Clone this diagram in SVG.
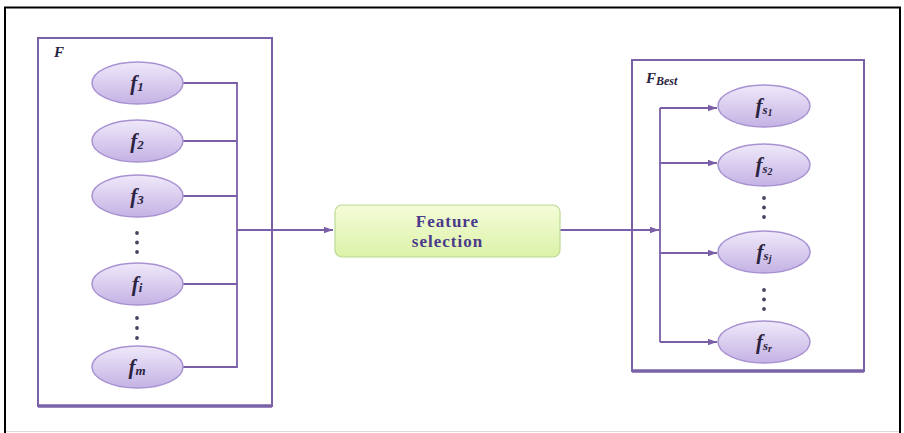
<svg xmlns="http://www.w3.org/2000/svg" width="904" height="433" viewBox="0 0 904 433">
<defs>
<linearGradient id="eg" x1="0" y1="0" x2="0" y2="1">
<stop offset="0" stop-color="#efe9fa"/>
<stop offset="1" stop-color="#c4b2e4"/>
</linearGradient>
<linearGradient id="gg" x1="0" y1="0" x2="0" y2="1">
<stop offset="0" stop-color="#f4fcd8"/>
<stop offset="1" stop-color="#dcf2a8"/>
</linearGradient>
<marker id="ar" viewBox="0 0 10 10" refX="10" refY="5" markerWidth="9" markerHeight="9" markerUnits="userSpaceOnUse" orient="auto">
<path d="M0,1.5 L10,5 L0,8.5 Z" fill="#7a5fa8"/>
</marker>
<style>
.el{fill:url(#eg);stroke:#a892d2;stroke-width:1.5}
.lb{font-family:"Liberation Serif",serif;font-weight:bold;font-style:italic;font-size:21px;fill:#2b2340;text-anchor:middle}
.sb{font-size:13px}
.ss{font-size:10px}
.dot{fill:#4a4060}
.cn{fill:none;stroke:#7a5fa8;stroke-width:1.8}
.box{fill:none;stroke:#7b62a8;stroke-width:2}
.ttl{font-family:"Liberation Serif",serif;font-weight:bold;font-style:italic;font-size:15px;fill:#2b2340}
.fs{font-family:"Liberation Serif",serif;font-weight:bold;font-size:17px;letter-spacing:1px;fill:#4a3a8a;text-anchor:middle}
</style>
</defs>
<rect x="0" y="0" width="904" height="433" fill="#ffffff"/>
<path d="M5,440 L5,7.5 L900,7.5 L900,440" fill="none" stroke="#000" stroke-width="2"/>
<line x1="6" y1="431.5" x2="899" y2="431.5" stroke="#dcdcdc" stroke-width="1"/>

<g id="groupF">
<rect class="box" x="38" y="38" width="234" height="368"/>
<line x1="38" y1="406" x2="272" y2="406" stroke="#7b62a8" stroke-width="3.5"/>
<text class="ttl" x="54" y="57">F</text>
</g>
<g id="groupFBest">
<rect class="box" x="632" y="60" width="232" height="311"/>
<line x1="632" y1="371" x2="864" y2="371" stroke="#7b62a8" stroke-width="3.5"/>
<text class="ttl" x="646" y="83">F<tspan style="font-size:12px" dy="2">Best</tspan></text>
</g>

<g id="connectors">
<path class="cn" d="M183,83 H237 V367 H183 M183,141 H237 M183,196 H237 M183,284 H237"/>
<path class="cn" d="M237,230 H333" marker-end="url(#ar)"/>
<path class="cn" d="M560,230 H659" marker-end="url(#ar)"/>
<path class="cn" d="M660,108 V342"/>
<path class="cn" d="M660,108 H717" marker-end="url(#ar)"/>
<path class="cn" d="M660,163 H717" marker-end="url(#ar)"/>
<path class="cn" d="M660,253 H717" marker-end="url(#ar)"/>
<path class="cn" d="M660,342 H717" marker-end="url(#ar)"/>
</g>

<g id="f1"><ellipse class="el" cx="137.5" cy="83" rx="45.5" ry="21"/><text class="lb" x="137" y="90">f<tspan class="sb" dy="1">1</tspan></text></g>
<g id="f2"><ellipse class="el" cx="137.5" cy="141" rx="45.5" ry="21"/><text class="lb" x="137" y="148">f<tspan class="sb" dy="1">2</tspan></text></g>
<g id="f3"><ellipse class="el" cx="137.5" cy="196" rx="45.5" ry="21"/><text class="lb" x="137" y="203">f<tspan class="sb" dy="1">3</tspan></text></g>
<g id="dotsL1"><circle class="dot" cx="137" cy="233" r="1.9"/><circle class="dot" cx="137" cy="242.5" r="1.9"/><circle class="dot" cx="137" cy="252" r="1.9"/></g>
<g id="fi"><ellipse class="el" cx="137.5" cy="284" rx="45.5" ry="21"/><text class="lb" x="137" y="291">f<tspan class="sb" dy="1">i</tspan></text></g>
<g id="dotsL2"><circle class="dot" cx="137" cy="318" r="1.9"/><circle class="dot" cx="137" cy="328" r="1.9"/><circle class="dot" cx="137" cy="338" r="1.9"/></g>
<g id="fm"><ellipse class="el" cx="137.5" cy="367" rx="45.5" ry="21"/><text class="lb" x="137" y="374">f<tspan class="sb" dy="1">m</tspan></text></g>

<g id="featureSelection">
<rect x="335" y="205" width="225" height="52" rx="7" fill="url(#gg)" stroke="#bcd996" stroke-width="1.2"/>
<text class="fs" x="447.5" y="227">Feature</text>
<text class="fs" x="447.5" y="247">selection</text>
</g>

<g id="fs1"><ellipse class="el" cx="764" cy="106" rx="46" ry="21"/><text class="lb" x="764" y="113">f<tspan class="sb" dy="1">s</tspan><tspan class="ss" dy="2">1</tspan></text></g>
<g id="fs2"><ellipse class="el" cx="764" cy="165" rx="46" ry="21"/><text class="lb" x="764" y="172">f<tspan class="sb" dy="1">s</tspan><tspan class="ss" dy="2">2</tspan></text></g>
<g id="dotsR1"><circle class="dot" cx="764" cy="198" r="1.9"/><circle class="dot" cx="764" cy="207.5" r="1.9"/><circle class="dot" cx="764" cy="217" r="1.9"/></g>
<g id="fsj"><ellipse class="el" cx="764" cy="252" rx="46" ry="21"/><text class="lb" x="764" y="259">f<tspan class="sb" dy="1">s</tspan><tspan class="ss" dy="2">j</tspan></text></g>
<g id="dotsR2"><circle class="dot" cx="764" cy="290" r="1.9"/><circle class="dot" cx="764" cy="299.5" r="1.9"/><circle class="dot" cx="764" cy="309" r="1.9"/></g>
<g id="fsr"><ellipse class="el" cx="764" cy="342" rx="46" ry="21"/><text class="lb" x="764" y="349">f<tspan class="sb" dy="1">s</tspan><tspan class="ss" dy="2">r</tspan></text></g>
</svg>
